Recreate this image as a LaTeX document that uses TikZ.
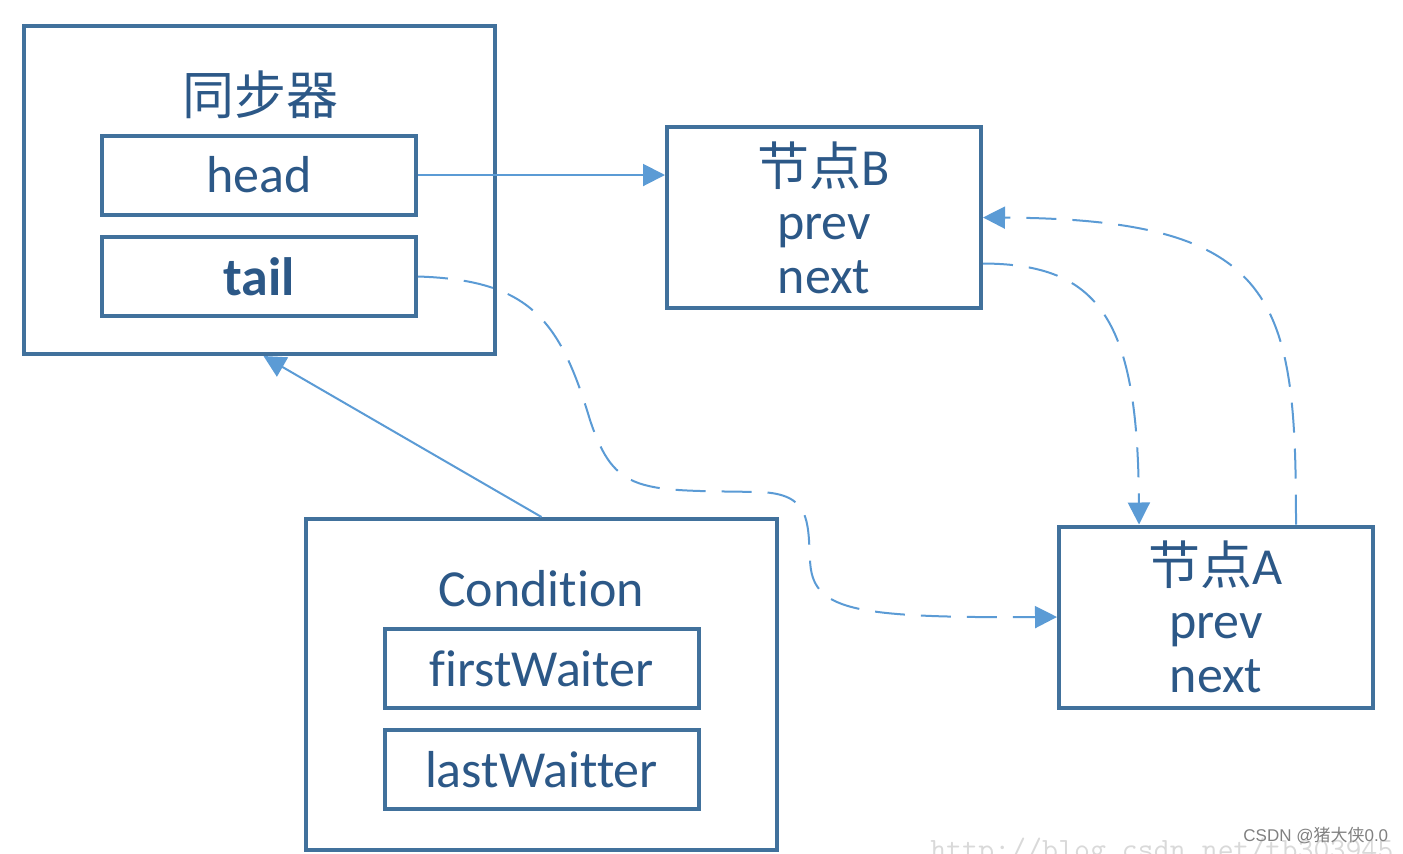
\documentclass[tikz,border=0pt]{standalone}
\usepackage{fontspec}
\setmainfont{Carlito}[Ligatures=NoCommon]
\newfontfamily\cjk{Noto Sans CJK SC}
\newfontfamily\wmsans{Liberation Sans}
\usetikzlibrary{arrows.meta}
\definecolor{boxline}{RGB}{65,113,156}
\definecolor{linkline}{RGB}{91,155,213}
\definecolor{textblue}{RGB}{44,88,135}
\begin{document}
\begin{tikzpicture}[x=0.5pt,y=-0.5pt,
    outer/.style={draw=boxline, line width=2pt, inner sep=0pt, minimum width=235.5pt},
    field/.style={draw=boxline, line width=2pt, inner sep=0pt, minimum width=157pt,
                  minimum height=39.5pt, text=textblue, font=\fontsize{26}{30}\selectfont},
    listnode/.style={draw=boxline, line width=2pt, inner sep=0pt, minimum width=157pt,
                  minimum height=90.5pt, align=center, text=textblue,
                  font=\fontsize{26}{27}\selectfont},
    title/.style={inner sep=0pt, text=textblue, font=\fontsize{26}{30}\selectfont},
    link/.style={draw=linkline, line width=1pt, -{Triangle[length=11pt,width=11pt]}},
    dlink/.style={link, dash pattern=on 15pt off 8pt}]
        \useasboundingbox (0,0) rectangle (1403,853);

        % Nodes
        \node (sync) [outer, minimum height=164pt] at (259.5,190) {};
        \node (synctitle) [title] at (260,95) {\cjk 同步器};
        \node (head) [field] at (259,175) {head};
        \node (tail) [field, font=\fontsize{27}{30}\selectfont\bfseries] at (259,276.5) {tail};

        \node (nodeB) [listnode] at (824,217.5) {{\cjk 节点}B\\prev\\next};
        \node (nodeA) [listnode] at (1216,617) {{\cjk 节点}A\\prev\\next};

        \node (cond) [outer, minimum height=165.5pt] at (541.5,684.5) {};
        \node (condtitle) [title] at (541,589) {Condition};
        \node (first) [field] at (541.5,668.5) {firstWaiter};
        \node (last) [field] at (541.5,769.5) {lastWaitter};

        % Edges
        \draw[link] (head.east) -- (nodeB.west |- head.east);
        \draw[link] (cond.north) -- ([xshift=2pt]sync.south);
        \draw[dlink] (tail.east) .. controls (530,280) and (560,320) .. (590,420)
            .. controls (615,495) and (640,490) .. (760,492)
            .. controls (810,494) and (808,520) .. (810,560)
            .. controls (812,610) and (850,618) .. (nodeA.west);
        \draw[dlink] ([yshift=-23pt]nodeB.east) .. controls (1100,264) and (1138,320) .. ([xshift=-38.5pt]nodeA.north);
        \draw[dlink] ([xshift=40pt]nodeA.north) .. controls (1296,300) and (1280,219) .. (nodeB.east);

        % Watermarks
        \node (wmurl) [anchor=base west, inner sep=0pt, text=black!15, font=\ttfamily\fontsize{15.5}{18}\selectfont] at (930,859) {http://blog.csdn.net/tb303945};
        \node (wmcsdn) [anchor=base west, inner sep=0pt, text=black!50, font=\wmsans\fontsize{8.5}{10}\selectfont] at (1243,841) {CSDN @{\cjk 猪大侠}0.0};
    \end{tikzpicture}
\end{document}
